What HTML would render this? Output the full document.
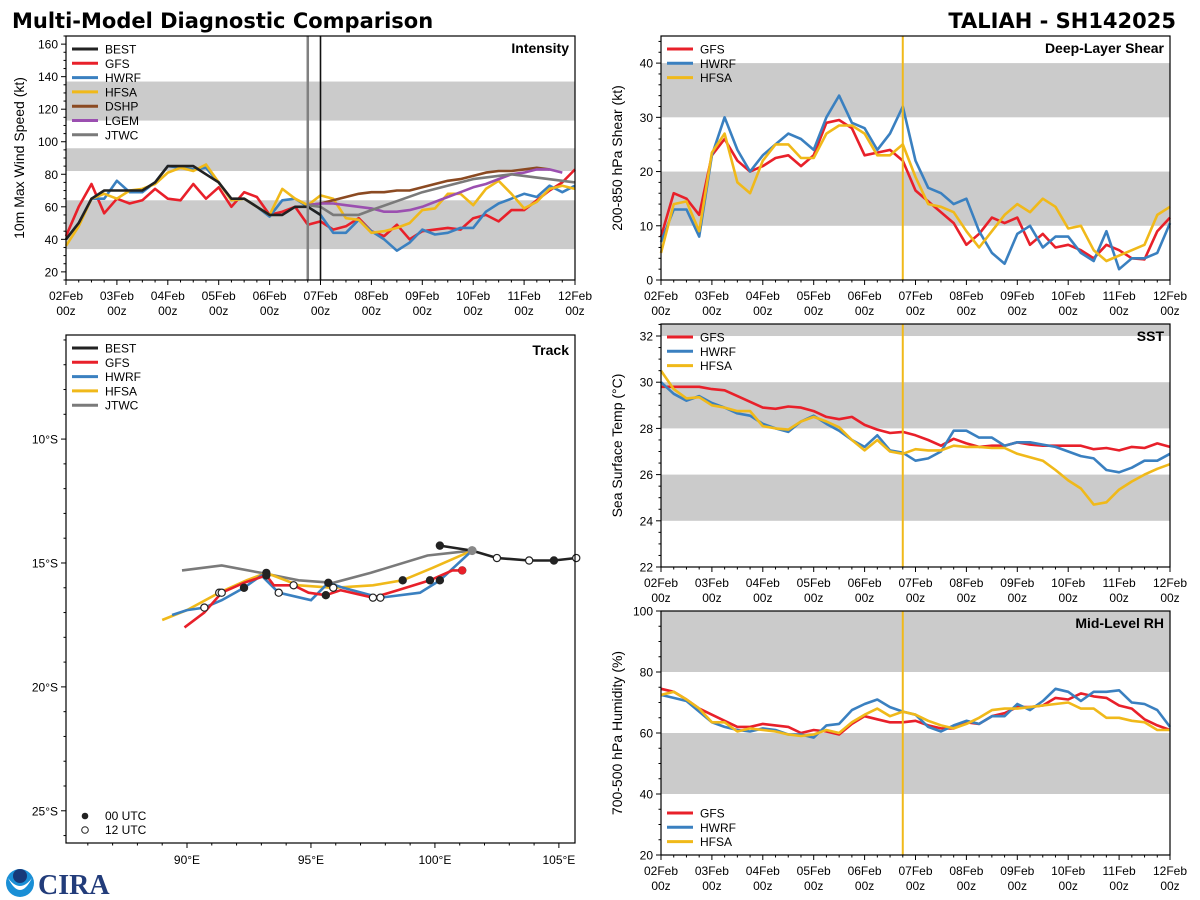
<!DOCTYPE html>
<html><head><meta charset="utf-8">
<style>
html,body{margin:0;padding:0;background:#fff;}
svg{display:block;font-family:"Liberation Sans","DejaVu Sans",sans-serif;}
</style></head>
<body>
<svg id="fig" width="1200" height="900" viewBox="0 0 1200 900" xmlns="http://www.w3.org/2000/svg">
<text x="12" y="28" font-size="21" font-weight="bold" font-family="DejaVu Sans, sans-serif">Multi-Model Diagnostic Comparison</text>
<text x="1176" y="28" font-size="21" font-weight="bold" font-family="DejaVu Sans, sans-serif" text-anchor="end">TALIAH - SH142025</text>
<g>
<circle cx="20" cy="883" r="14" fill="#1a8fd6"/>
<path d="M8 878 Q20 894 32 878 Q26 890 20 890 Q14 890 8 878Z" fill="#fff"/>
<circle cx="20" cy="876" r="7" fill="#173a7a"/>
<text x="38" y="894" font-size="28" font-weight="bold" fill="#223c7a" font-family="Liberation Serif, serif">CIRA</text>
</g>
<g id="plots"></g>
</svg>
<script>
// ---------- DATA ----------
const dayLabels = ["02Feb","03Feb","04Feb","05Feb","06Feb","07Feb","08Feb","09Feb","10Feb","11Feb","12Feb"];
const intBEST = [40,50,65,70,70,70,70,75,85,85,85,80,75,65,65,60,55,55,60,60,55];
const intGFS = [42,60,74,56,65,62,64,71,65,64,74,65,72,60,69,66,55,57,60,49,51,46,48,53,45,42,49,40,45,46,47,46,53,55,51,58,58,64,70,75,83];
const intHWRF = [40,50,65,65,76,69,69,75,85,84,83,84,75,64,65,60,54,64,65,60,55,44,44,52,45,40,33,38,46,43,44,47,47,57,62,65,68,66,73,69,73];
const intHFSA = [36,48,65,68,65,70,71,74,81,84,82,86,75,64,65,60,55,71,65,61,67,65,53,52,44,45,47,50,58,59,68,68,61,71,76,68,59,63,71,73,71];
const intDSHP = [null,null,null,null,null,null,null,null,null,null,null,null,null,null,null,null,null,null,null,61,62,64,66,68,69,69,70,70,72,74,76,77,79,81,82,82,83,84,83];
const intLGEM = [null,null,null,null,null,null,null,null,null,null,null,null,null,null,null,null,null,null,null,61,62,62,61,60,59,57,57,58,60,63,66,69,72,74,77,80,81,83,83,81];
const intJTWC = [null,null,null,null,null,null,null,null,null,null,null,null,null,null,null,null,null,null,null,61,60,55,null,55,58,null,null,null,69,null,null,null,77,null,null,80,null,null,null,null,75];
const shrGFS = [8,16,15,12,23,26,22,20,21,22.5,23,21,23,29,29.5,28,23,23.5,24,22,16.5,14.5,12.5,10.5,6.5,8.5,11.5,10.5,11.5,6.5,8.5,6,6.5,5.5,4,6.5,5.5,4,3.8,9,11.5];
const shrHWRF = [7,13,13,8,23,30,24,20,23,25,27,26,24,30,34,29,28,24,27,32,22,17,16,14,15,9,5,3,8.5,10,6,8,8,5,3.5,9,2,4,4,5,10.5];
const shrHFSA = [5,14,14.5,9,23.5,27,18,16,22,25,25,22.5,22.5,27,28.5,28.5,27,23,23,25,19,14,13.5,12.5,9,6,9,12,14,12.5,15,13.5,9.5,10,5.5,3.5,4.5,5.5,6.5,12,13.5];
const sstGFS = [29.8,29.8,29.8,29.8,29.7,29.65,29.4,29.15,28.9,28.85,28.95,28.9,28.75,28.5,28.4,28.5,28.15,27.95,27.8,27.85,27.7,27.5,27.25,27.55,27.35,27.2,27.25,27.25,27.4,27.3,27.25,27.25,27.25,27.25,27.1,27.15,27.05,27.2,27.15,27.35,27.2];
const sstHWRF = [30,29.5,29.2,29.4,29.1,28.9,28.65,28.55,28.2,28.0,27.85,28.3,28.55,28.2,27.9,27.5,27.2,27.7,27.05,26.95,26.6,26.7,27.0,27.9,27.9,27.6,27.6,27.25,27.4,27.4,27.3,27.2,27.0,26.8,26.7,26.2,26.1,26.3,26.6,26.6,26.9];
const sstHFSA = [30.5,29.7,29.3,29.35,29.0,28.9,28.75,28.75,28.1,28.0,27.95,28.3,28.5,28.3,28.05,27.5,27.05,27.5,27.0,26.9,27.1,27.05,27.05,27.25,27.2,27.2,27.15,27.15,26.9,26.75,26.6,26.2,25.75,25.4,24.7,24.8,25.35,25.7,26.0,26.25,26.45];
const rhGFS = [74.5,73.5,71,68,66,64,62,62,63,62.5,62,60,61,60.5,59.5,63,65.5,64.5,63.5,63.5,64,62.5,61.5,61.5,63.5,63,65.5,66.5,68.5,68.5,69,71.5,71,73,72,71.5,69,68,64.5,62.5,61];
const rhHWRF = [72.5,71.5,70.5,67,63.5,62,61,60.5,61.5,61,59.5,59.5,58.5,62.5,63,67.5,69.5,71,68.5,67,66,62,60.5,62.5,64,63,65.5,65.5,69.5,67.5,70.5,74.5,73.5,70.5,73.5,73.5,74,70,69.5,67.5,62];
const rhHFSA = [72.5,73.5,71,68,63.5,63.5,60.5,61.5,61,60.5,59.5,59,59.5,61,60,63.5,66,68,65.5,67,66,64,62.5,61.5,63,65,67.5,68,68,68.5,69,69.5,70,68,68,65,65,64,63.5,61,61];
const trkBESTLon = [100.2,101.5,102.5,103.8,104.8,105.7];
const trkBESTLat = [-14.3,-14.5,-14.8,-14.9,-14.9,-14.8];
const trkJTWCLon = [89.8,91.4,93.0,94.5,95.9,97.4,99.7,101.5];
const trkJTWCLat = [-15.3,-15.1,-15.4,-15.7,-15.8,-15.4,-14.7,-14.5];
const trkHFSALon = [89.0,90.0,91.3,92.4,93.2,94.5,95.9,97.5,98.7,99.9,101.5];
const trkHFSALat = [-17.3,-16.9,-16.2,-15.7,-15.4,-15.9,-16.0,-15.9,-15.7,-15.2,-14.5];
const trkHWRFLon = [89.4,90.0,90.7,91.4,92.3,93.0,93.7,95.0,95.7,96.3,97.8,99.4,100.2,101.5];
const trkHWRFLat = [-17.1,-16.9,-16.8,-16.5,-16.0,-15.5,-16.2,-16.5,-15.8,-16.0,-16.4,-16.2,-15.7,-14.5];
const trkGFSLon = [89.9,90.7,91.4,92.3,93.2,93.5,94.3,94.9,95.6,96.2,97.5,98.5,99.8,100.7,101.1];
const trkGFSLat = [-17.6,-17.0,-16.2,-15.8,-15.5,-15.9,-15.9,-16.2,-16.3,-16.1,-16.4,-16.1,-15.7,-15.3,-15.3];

const C = {BEST:"#222",GFS:"#e8202a",HWRF:"#3a80c0",HFSA:"#f0b91a",DSHP:"#8b4a22",LGEM:"#9b4fb0",JTWC:"#7a7a7a"};
const NS = "http://www.w3.org/2000/svg";
const root = document.getElementById("plots");
function mk(tag, attrs, parent){ const e=document.createElementNS(NS,tag); for(const k in attrs) e.setAttribute(k,attrs[k]); (parent||root).appendChild(e); return e; }

function timePanel(p){
  const g = mk("g",{});
  
  
  const xs = i => p.x0 + (p.x1-p.x0)*i/40;
  const ys = v => p.y1 - (v-p.min)/(p.max-p.min)*(p.y1-p.y0);
  p.bands.forEach(b=>{
    const r = mk("rect",{x:p.x0,y:ys(Math.min(b[1],p.max)),width:p.x1-p.x0,height:ys(b[0])-ys(Math.min(b[1],p.max)),fill:"#cbcbcb"},g);
    
    
  });
  dayLabels.forEach((d,k)=>{
    const x = xs(k*4);
    mk("line",{x1:x,x2:x,y1:p.y1,y2:p.y1+5,stroke:"#000"},g);
    for(let m=1;m<4&&k<10;m++){ const xm=xs(k*4+m); mk("line",{x1:xm,x2:xm,y1:p.y1,y2:p.y1+2.5,stroke:"#000"},g); }
    const t = mk("text",{x:x,y:p.y1+20,"font-size":12,"text-anchor":"middle"},g); t.textContent=d;
    
    
    const t2 = mk("text",{x:x,y:p.y1+35,"font-size":12,"text-anchor":"middle"},g); t2.textContent="00z";
    
    
  });
  for(let v=p.tickStart; v<=p.max+1e-6; v+=p.minor){
    const y=ys(v); const major = Math.abs(((v-p.tickStart)/p.step) - Math.round((v-p.tickStart)/p.step))<1e-6;
    mk("line",{x1:p.x0-(major?5:2.5),x2:p.x0,y1:y,y2:y,stroke:"#000"},g);
    if(major){ const t=mk("text",{x:p.x0-8,y:y+4.5,"font-size":12,"text-anchor":"end"},g); t.textContent=v;
      
       }
  }
  for(let v=p.tickStart-p.minor; v>=p.min; v-=p.minor){ const y=ys(v); mk("line",{x1:p.x0-2.5,x2:p.x0,y1:y,y2:y,stroke:"#000"},g); }
  const yt = mk("text",{x:0,y:0,"font-size":14,"text-anchor":"middle",transform:`translate(${p.ylx},${(p.y0+p.y1)/2}) rotate(-90)`},g);
  yt.textContent=p.ylabel;
  
  
  p.series.forEach(s=>{
    let d=""; let pen=false;
    s.data.forEach((v,i)=>{ if(v==null) return; d += (pen?"L":"M")+xs(i).toFixed(1)+" "+ys(v).toFixed(1); pen=true; });
    const path = mk("path",{d:d,fill:"none",stroke:C[s.k],"stroke-width":2.6,"stroke-linejoin":"round"},g);
    
    
  });
  (p.afterLines||[]).forEach(v=>{ const x=xs(v[0]); mk("line",{x1:x,x2:x,y1:p.y0,y2:p.y1,stroke:v[1],"stroke-width":v[2]||2},g); });
  mk("rect",{x:p.x0,y:p.y0,width:p.x1-p.x0,height:p.y1-p.y0,fill:"none",stroke:"#000","stroke-width":1.2},g);
  const tt = mk("text",{x:p.x1-6,y:p.y0+17,"font-size":14,"font-weight":"bold","text-anchor":"end"},g);
  tt.textContent=p.title;
  
  
  legend(g,p.x0+6,p.legY,p.series.map(s=>s.k),p.legOrder);
}
function legend(g,x,y,keys,order){
  const lg = mk("g",{},g);
  
  
  (order||keys).forEach((k,i)=>{
    const yy=y+i*14.3;
    mk("line",{x1:x,x2:x+26,y1:yy,y2:yy,stroke:C[k],"stroke-width":3},lg);
    const t=mk("text",{x:x+33,y:yy+4.5,"font-size":12},lg); t.textContent=k;
    
    
  });
}

timePanel({name:"intensity-panel",title:"Intensity",x0:66,x1:575,y0:36,y1:280,min:15,max:165,tickStart:20,step:20,minor:5,
  bands:[[34,64],[82,96],[113,137]],ylabel:"10m Max Wind Speed (kt)",ylx:24,legY:49,
  series:[{k:"GFS",data:intGFS},{k:"HWRF",data:intHWRF},{k:"HFSA",data:intHFSA},{k:"DSHP",data:intDSHP},{k:"LGEM",data:intLGEM},{k:"JTWC",data:intJTWC},{k:"BEST",data:intBEST}],
  legOrder:["BEST","GFS","HWRF","HFSA","DSHP","LGEM","JTWC"],
  afterLines:[[19,"#808080",2.5],[20,"#111",1.6]]});
timePanel({name:"shear-panel",title:"Deep-Layer Shear",x0:661,x1:1170,y0:36,y1:280,min:0,max:45,tickStart:0,step:10,minor:2,
  bands:[[10,20],[30,40]],ylabel:"200-850 hPa Shear (kt)",ylx:622,legY:49,
  series:[{k:"GFS",data:shrGFS},{k:"HWRF",data:shrHWRF},{k:"HFSA",data:shrHFSA}],
  afterLines:[[19,"#f0b91a",2]]});
timePanel({name:"sst-panel",title:"SST",x0:661,x1:1170,y0:324,y1:567,min:22,max:32.52,tickStart:22,step:2,minor:0.5,
  bands:[[24,26],[28,30],[32,33]],ylabel:"Sea Surface Temp (°C)",ylx:622,legY:337,
  series:[{k:"GFS",data:sstGFS},{k:"HWRF",data:sstHWRF},{k:"HFSA",data:sstHFSA}],
  afterLines:[[19,"#f0b91a",2]]});
timePanel({name:"rh-panel",title:"Mid-Level RH",x0:661,x1:1170,y0:611,y1:855,min:20,max:100,tickStart:20,step:20,minor:5,
  bands:[[40,60],[80,100]],ylabel:"700-500 hPa Humidity (%)",ylx:622,legY:813,
  series:[{k:"GFS",data:rhGFS},{k:"HWRF",data:rhHWRF},{k:"HFSA",data:rhHFSA}],
  afterLines:[[19,"#f0b91a",2]]});

// ---------- TRACK ----------
(function(){
  const p={x0:66,x1:575,y0:335,y1:843,lonMin:85.12,lonMax:105.65,latMax:-5.8,latMin:-26.3};
  const g = mk("g",{});
  
  
  const xs = l => p.x0+(l-p.lonMin)/(p.lonMax-p.lonMin)*(p.x1-p.x0);
  const ys = l => p.y0+(p.latMax-l)/(p.latMax-p.latMin)*(p.y1-p.y0);
  for(let l=86;l<=105;l++){ const x=xs(l); const maj=l%5==0; mk("line",{x1:x,x2:x,y1:p.y1,y2:p.y1+(maj?5:2.5),stroke:"#000"},g);
    if(maj){ const t=mk("text",{x:x,y:p.y1+21,"font-size":12,"text-anchor":"middle"},g); t.textContent=l+"°E";
      
       } }
  for(let l=-6;l>=-26;l--){ const y=ys(l); const maj=l%5==0; mk("line",{x1:p.x0-(maj?5:2.5),x2:p.x0,y1:y,y2:y,stroke:"#000"},g);
    if(maj){ const t=mk("text",{x:p.x0-8,y:y+4.5,"font-size":12,"text-anchor":"end"},g); t.textContent=(-l)+"°S";
      
       } }
  const tr=[["JTWC",trkJTWCLon,trkJTWCLat],["HFSA",trkHFSALon,trkHFSALat],["HWRF",trkHWRFLon,trkHWRFLat],["GFS",trkGFSLon,trkGFSLat],["BEST",trkBESTLon,trkBESTLat]];
  tr.forEach(t=>{
    const d=t[1].map((l,i)=>(i?"L":"M")+xs(l).toFixed(1)+" "+ys(t[2][i]).toFixed(1)).join("");
    const path=mk("path",{d:d,fill:"none",stroke:C[t[0]],"stroke-width":2.6},g);
    
    
  });
  tr.forEach(t=>{
    if(t[0]=="JTWC") return;
    t[1].forEach((l,i)=>{
      if(t[0]!="BEST" && (i%2==1 || i==0)) return;
      const filled = (i%4==0);
      const c=mk("circle",{cx:xs(l),cy:ys(t[2][i]),r:3.6,fill:filled?"#222":"#fff",stroke:"#222","stroke-width":1.2},g);
      
      
    });
  });
  mk("circle",{cx:xs(trkGFSLon[trkGFSLon.length-1]),cy:ys(trkGFSLat[trkGFSLat.length-1]),r:4,fill:C.GFS},g);
  mk("circle",{cx:xs(101.5),cy:ys(-14.5),r:4.5,fill:"#888"},g);
  mk("rect",{x:p.x0,y:p.y0,width:p.x1-p.x0,height:p.y1-p.y0,fill:"none",stroke:"#000","stroke-width":1.2},g);
  const tt=mk("text",{x:p.x1-6,y:p.y0+20,"font-size":14,"font-weight":"bold","text-anchor":"end"},g); tt.textContent="Track";
  
  
  legend(g,p.x0+6,p.y0+13,["BEST","GFS","HWRF","HFSA","JTWC"]);
  const lg=mk("g",{},g);
  
  
  mk("circle",{cx:85,cy:816,r:3.3,fill:"#222"},lg);
  mk("circle",{cx:85,cy:830,r:3.3,fill:"#fff",stroke:"#222"},lg);
  const a=mk("text",{x:105,y:820,"font-size":12},lg); a.textContent="00 UTC";
  const b=mk("text",{x:105,y:834,"font-size":12},lg); b.textContent="12 UTC";
})();
</script>
</body></html>
